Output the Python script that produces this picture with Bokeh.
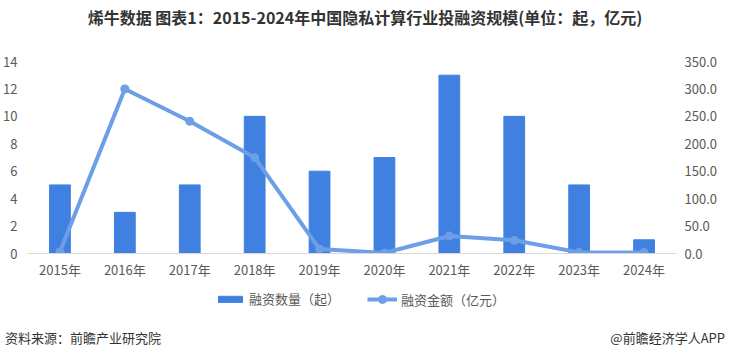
from bokeh.plotting import figure
from bokeh.layouts import column
from bokeh.models import (Range1d, LinearAxis, FixedTicker, NumeralTickFormatter,
                          Legend, LegendItem, ColumnDataSource, Div)
from bokeh.embed import file_html
from bokeh.resources import INLINE

years = ["2015年", "2016年", "2017年", "2018年", "2019年", "2020年", "2021年", "2022年", "2023年", "2024年"]
deal_counts = [5, 3, 5, 10, 6, 7, 13, 10, 5, 1]
deal_amounts = [3, 300, 241, 175, 8, 1, 32, 24, 2, 2]
left_ticks = [0, 2, 4, 6, 8, 10, 12, 14]
right_ticks = [0, 50, 100, 150, 200, 250, 300, 350]

title_text = "烯牛数据 图表1：2015-2024年中国隐私计算行业投融资规模(单位：起，亿元)"
source_text = "资料来源：前瞻产业研究院"
brand_text = "@前瞻经济学人APP"
bar_label = "融资数量（起）"
line_label = "融资金额（亿元）"

FONT = "Noto Sans CJK SC"
BAR_C = "#3f80e0"
LINE_C = "#6d9ee8"
TXT_C = "#595959"

# title
title_div = Div(text=title_text, width=720, height=36,
                styles={"font-family": FONT, "font-size": "16px", "font-weight": "bold",
                        "color": "#333333", "text-align": "center", "line-height": "24px",
                        "white-space": "nowrap"})

# main chart
src = ColumnDataSource(dict(x=years, n=deal_counts, a=deal_amounts))

p = figure(width=720, height=241, x_range=years, y_range=Range1d(0, 14),
           output_backend="svg", toolbar_location=None,
           min_border_left=26, min_border_right=44, min_border_top=15, min_border_bottom=34)
p.outline_line_color = None
p.grid.grid_line_color = None
p.extra_y_ranges = {"amt": Range1d(0, 350)}

bars = p.vbar(x="x", top="n", width=0.32, source=src, color=BAR_C)
ln = p.line(x="x", y="a", source=src, y_range_name="amt", line_color=LINE_C, line_width=4)
sc = p.scatter(x="x", y="a", source=src, y_range_name="amt", size=8,
               fill_color=LINE_C, line_color=LINE_C)


def style_axis(a, standoff):
    a.major_tick_line_color = None
    a.minor_tick_line_color = None
    a.major_tick_out = 0
    a.major_tick_in = 0
    a.minor_tick_out = 0
    a.minor_tick_in = 0
    a.major_label_text_font = FONT
    a.major_label_text_font_size = "13px"
    a.major_label_text_color = TXT_C
    a.major_label_standoff = standoff


ax = p.xaxis[0]
style_axis(ax, 6)
ax.axis_line_color = "#d9d9d9"

ay = p.yaxis[0]
style_axis(ay, 10)
ay.ticker = FixedTicker(ticks=left_ticks)
ay.axis_line_color = None

ry = LinearAxis(y_range_name="amt", ticker=FixedTicker(ticks=right_ticks),
                formatter=NumeralTickFormatter(format="0.0"))
style_axis(ry, 8)
ry.axis_line_color = None
p.add_layout(ry, "right")

# legend strip: same data and styles, ranges chosen so only the legend shows
lf = figure(width=720, height=35, x_range=years, y_range=Range1d(1000, 1001),
            output_backend="svg", toolbar_location=None,
            x_axis_location=None, y_axis_location=None,
            min_border_left=26, min_border_right=44, min_border_top=0, min_border_bottom=0)
lf.grid.visible = False
lf.outline_line_color = None
lb = lf.vbar(x="x", top="n", width=0.32, source=src, color=BAR_C)
ll = lf.line(x="x", y="a", source=src, line_color=LINE_C, line_width=4)
ls = lf.scatter(x="x", y="a", source=src, size=8, fill_color=LINE_C, line_color=LINE_C)

common = dict(orientation="horizontal", glyph_width=30, label_text_font=FONT,
              label_text_font_size="13px", label_text_color=TXT_C,
              padding=0, margin=0, border_line_color=None,
              background_fill_alpha=0, label_standoff=4)
legend_bar = Legend(items=[LegendItem(label=bar_label, renderers=[lb])],
                    location=(188, 14), glyph_height=8, **common)
legend_line = Legend(items=[LegendItem(label=line_label, renderers=[ll, ls])],
                     location=(340, 13), glyph_height=20, **common)
lf.add_layout(legend_bar, "center")
lf.add_layout(legend_line, "center")

# footer
footer_div = Div(text=(f'<div style="display:flex;justify-content:space-between;width:720px">'
                       f'<span>{source_text}</span><span>{brand_text}</span></div>'),
                 width=720, height=32,
                 styles={"font-family": FONT, "font-size": "13px", "color": "#333333",
                         "line-height": "22px"})

layout = column(title_div, p, lf, footer_div, spacing=0)
open("out.html", "w").write(file_html(layout, INLINE))
